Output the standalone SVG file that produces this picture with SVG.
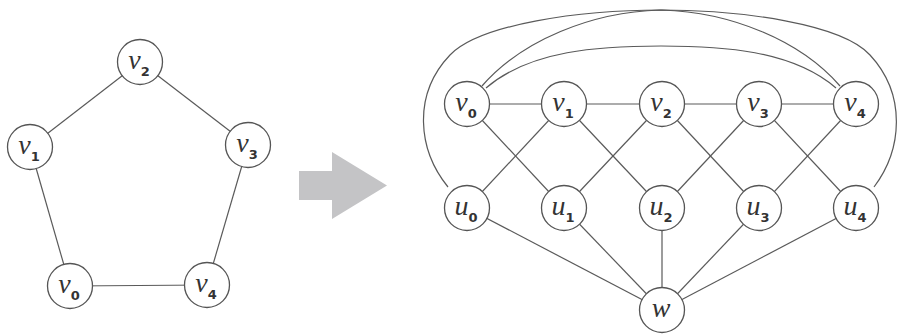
<svg xmlns="http://www.w3.org/2000/svg" width="899" height="336" viewBox="0 0 899 336">
  <style>
    .edge { fill: none; stroke: #5a5a5a; stroke-width: 1.2; }
    .node circle { fill: #ffffff; stroke: #555555; stroke-width: 1.3; }
    .lbl { font-family: "Liberation Serif", "DejaVu Serif", serif; font-style: italic; font-size: 28px; fill: #333333; text-anchor: middle; }
    .sub { font-family: "DejaVu Sans", "Liberation Sans", sans-serif; font-style: normal; font-weight: bold; font-size: 13px; }
    .arrow { fill: #c4c4c6; }
  </style>

  <!-- connectors -->
  <g id="connectors">
    <!-- C5 cycle -->
    <line class="edge" x1="140" y1="62" x2="30" y2="147"/>
    <line class="edge" x1="140" y1="62" x2="248" y2="145"/>
    <line class="edge" x1="30" y1="147" x2="70" y2="286"/>
    <line class="edge" x1="248" y1="145" x2="207" y2="285"/>
    <line class="edge" x1="70" y1="286" x2="207" y2="285"/>

    <!-- Mycielskian: path v0..v4 -->
    <line class="edge" x1="467" y1="104" x2="856" y2="104"/>
    <!-- v_i to u_(i±1) -->
    <line class="edge" x1="467" y1="104" x2="564" y2="208"/>
    <line class="edge" x1="564" y1="104" x2="467" y2="208"/>
    <line class="edge" x1="564" y1="104" x2="662" y2="208"/>
    <line class="edge" x1="662" y1="104" x2="564" y2="208"/>
    <line class="edge" x1="662" y1="104" x2="759" y2="208"/>
    <line class="edge" x1="759" y1="104" x2="662" y2="208"/>
    <line class="edge" x1="759" y1="104" x2="856" y2="208"/>
    <line class="edge" x1="856" y1="104" x2="759" y2="208"/>
    <!-- u_i to w -->
    <line class="edge" x1="467" y1="208" x2="662" y2="310"/>
    <line class="edge" x1="564" y1="208" x2="662" y2="310"/>
    <line class="edge" x1="662" y1="208" x2="662" y2="310"/>
    <line class="edge" x1="759" y1="208" x2="662" y2="310"/>
    <line class="edge" x1="856" y1="208" x2="662" y2="310"/>
    <!-- arcs over the top -->
    <path class="edge" d="M486,88 C530,50 600,46 661,46 C722,46 792,50 836,88"/>
    <path class="edge" d="M448,187 C418,150 412,95 450,55 C480,24 580,10 662,10 C730,12 800,40 840,86"/>
    <path class="edge" d="M874,187 C902,150 907,95 870,55 C842,24 742,10 660,10 C592,12 522,40 482,86"/>
  </g>

  <!-- transformation arrow -->
  <polygon class="arrow" points="299,171 332,171 332,152 387,185.5 332,219 332,200 299,200"/>

  <!-- C5 nodes -->
  <g id="c5-v2" class="node"><circle cx="140" cy="62" r="22.5"/><text class="lbl" x="139" y="69">v<tspan class="sub" dy="7">2</tspan></text></g>
  <g id="c5-v1" class="node"><circle cx="30" cy="147" r="22.5"/><text class="lbl" x="29" y="154">v<tspan class="sub" dy="7">1</tspan></text></g>
  <g id="c5-v3" class="node"><circle cx="248" cy="145" r="22.5"/><text class="lbl" x="247" y="152">v<tspan class="sub" dy="7">3</tspan></text></g>
  <g id="c5-v0" class="node"><circle cx="70" cy="286" r="22.5"/><text class="lbl" x="69" y="293">v<tspan class="sub" dy="7">0</tspan></text></g>
  <g id="c5-v4" class="node"><circle cx="207" cy="285" r="22.5"/><text class="lbl" x="206" y="292">v<tspan class="sub" dy="7">4</tspan></text></g>

  <!-- Mycielskian nodes -->
  <g id="m-v0" class="node"><circle cx="467" cy="104" r="22.5"/><text class="lbl" x="466" y="111">v<tspan class="sub" dy="7">0</tspan></text></g>
  <g id="m-v1" class="node"><circle cx="564" cy="104" r="22.5"/><text class="lbl" x="563" y="111">v<tspan class="sub" dy="7">1</tspan></text></g>
  <g id="m-v2" class="node"><circle cx="662" cy="104" r="22.5"/><text class="lbl" x="661" y="111">v<tspan class="sub" dy="7">2</tspan></text></g>
  <g id="m-v3" class="node"><circle cx="759" cy="104" r="22.5"/><text class="lbl" x="758" y="111">v<tspan class="sub" dy="7">3</tspan></text></g>
  <g id="m-v4" class="node"><circle cx="856" cy="104" r="22.5"/><text class="lbl" x="855" y="111">v<tspan class="sub" dy="7">4</tspan></text></g>

  <g id="m-u0" class="node"><circle cx="467" cy="208" r="22.5"/><text class="lbl" x="466" y="215">u<tspan class="sub" dy="7">0</tspan></text></g>
  <g id="m-u1" class="node"><circle cx="564" cy="208" r="22.5"/><text class="lbl" x="563" y="215">u<tspan class="sub" dy="7">1</tspan></text></g>
  <g id="m-u2" class="node"><circle cx="662" cy="208" r="22.5"/><text class="lbl" x="661" y="215">u<tspan class="sub" dy="7">2</tspan></text></g>
  <g id="m-u3" class="node"><circle cx="759" cy="208" r="22.5"/><text class="lbl" x="758" y="215">u<tspan class="sub" dy="7">3</tspan></text></g>
  <g id="m-u4" class="node"><circle cx="856" cy="208" r="22.5"/><text class="lbl" x="855" y="215">u<tspan class="sub" dy="7">4</tspan></text></g>

  <g id="m-w" class="node"><circle cx="662" cy="310" r="22.5"/><text class="lbl" x="661" y="317">w</text></g>
</svg>
